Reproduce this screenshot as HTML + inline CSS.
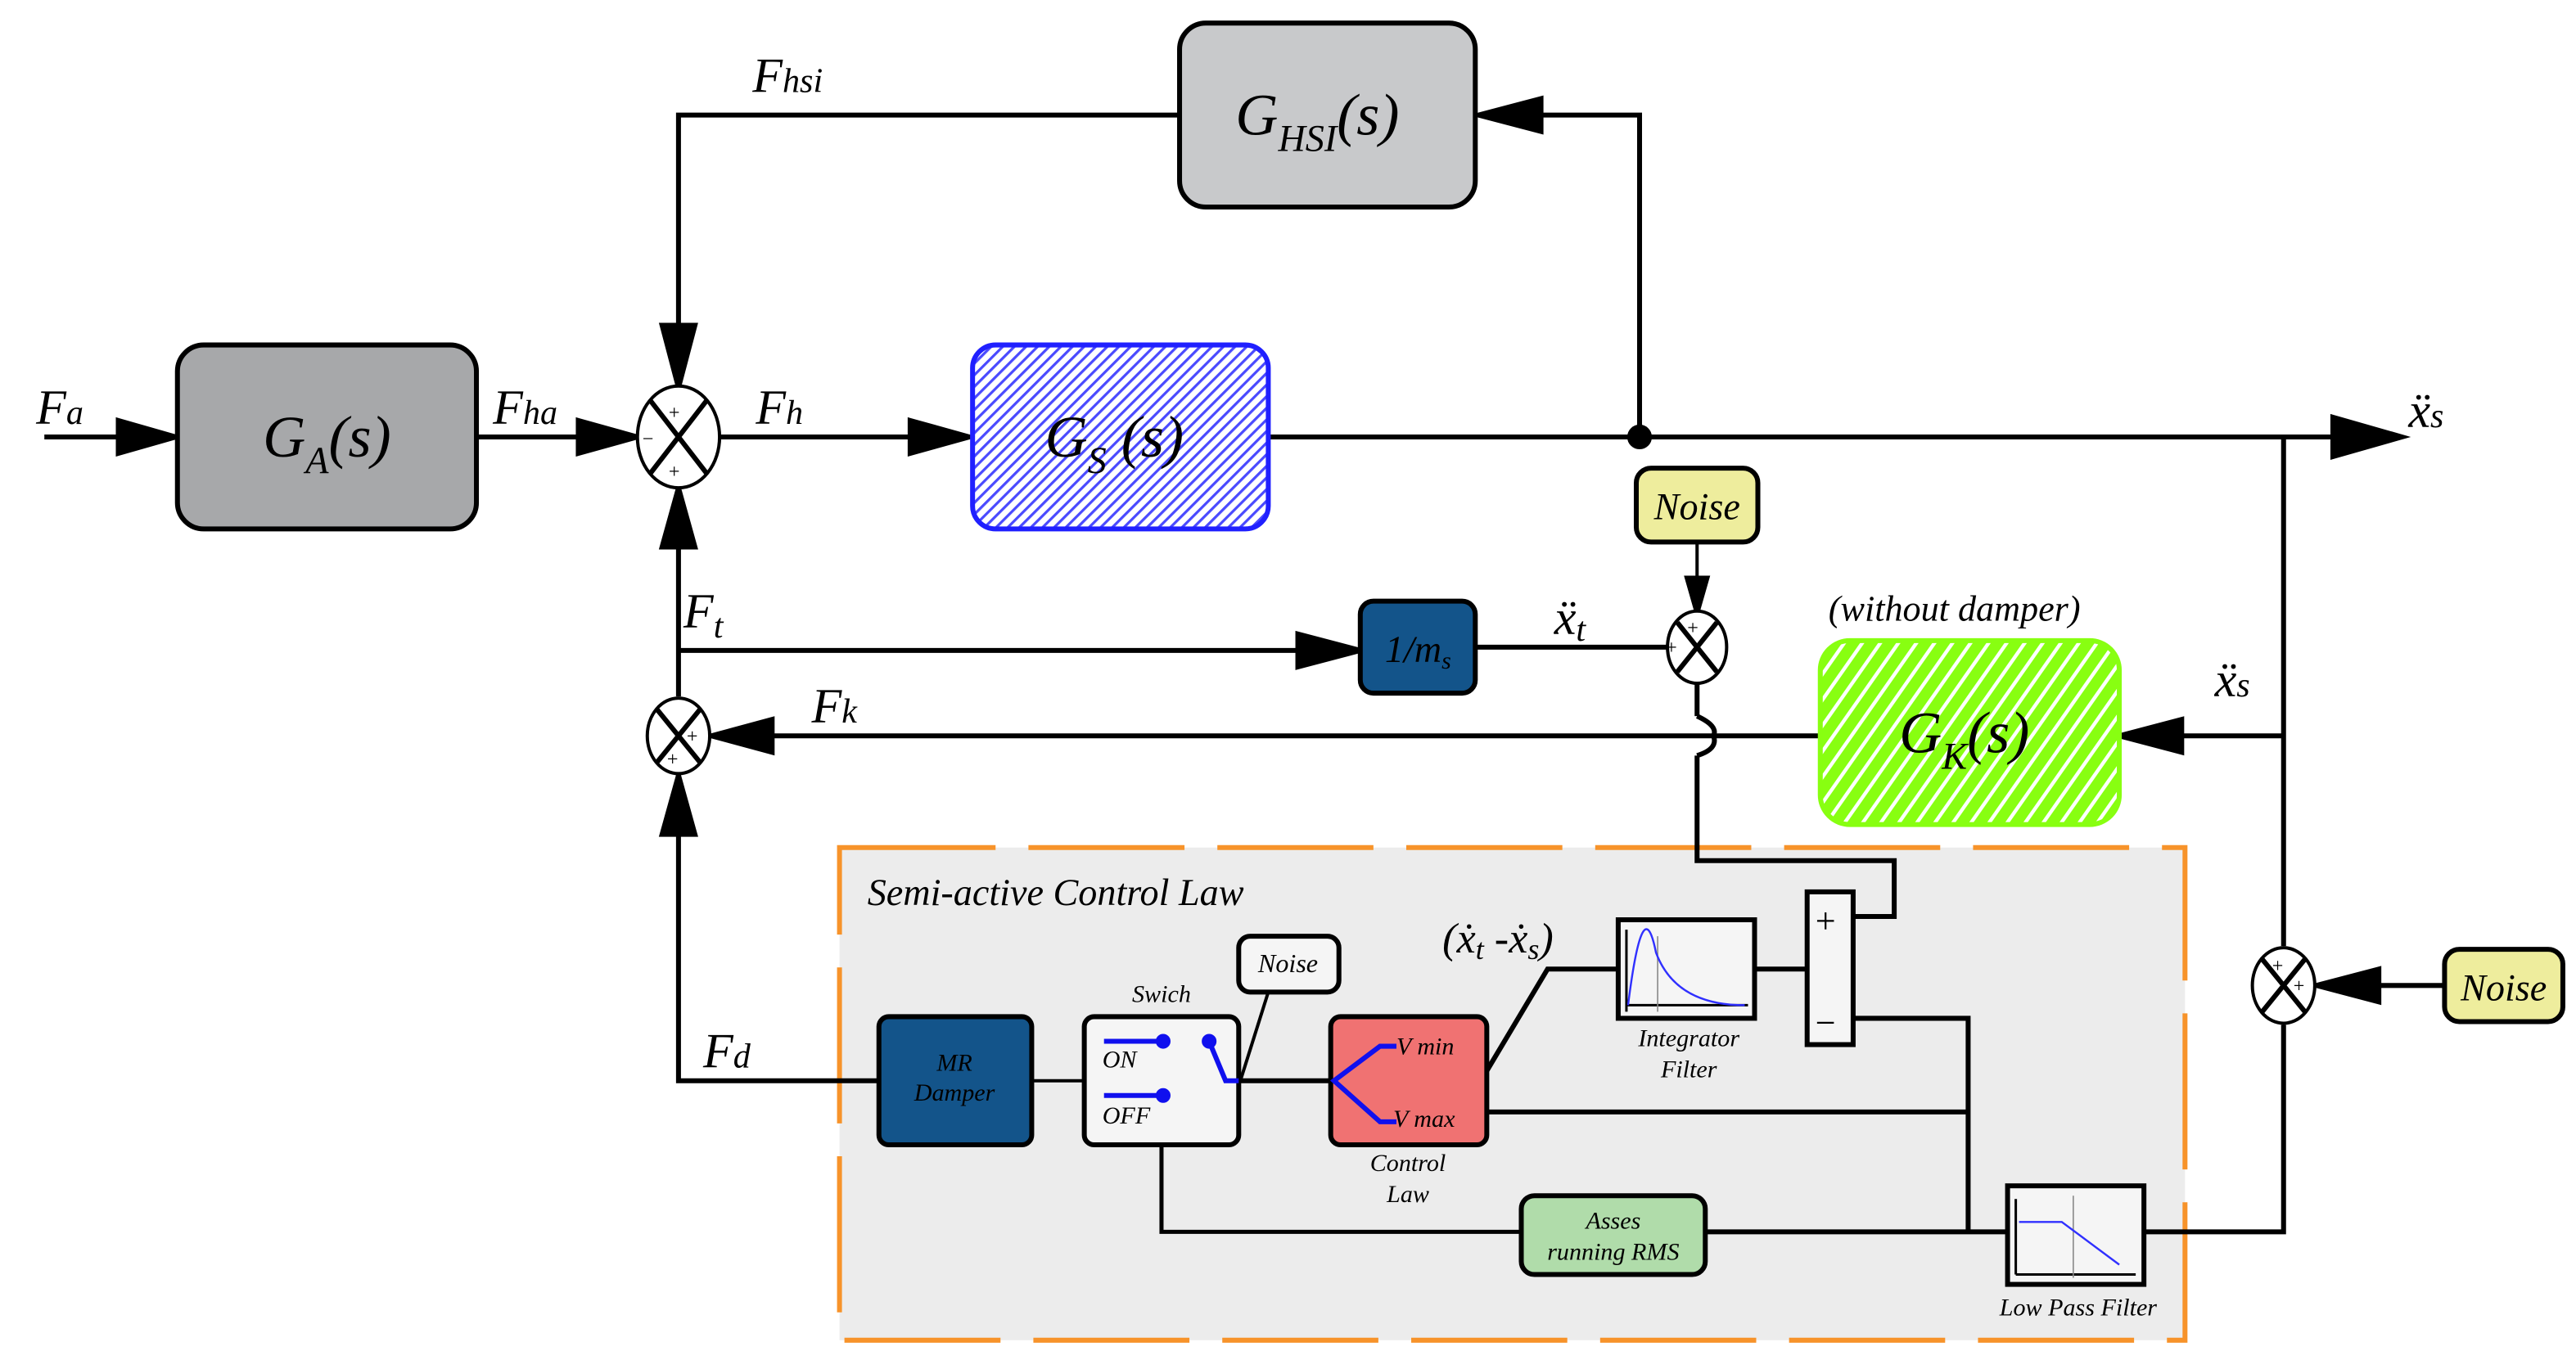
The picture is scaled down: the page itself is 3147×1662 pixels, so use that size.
<!DOCTYPE html>
<html><head><meta charset="utf-8"><style>html,body{margin:0;padding:0;background:#fff}svg{display:block}
svg text{font-family:"Liberation Serif","DejaVu Serif","Times New Roman",serif;font-style:italic}</style></head>
<body>
<svg width="3147" height="1662" viewBox="0 0 1568 828" xmlns="http://www.w3.org/2000/svg" font-family="'Liberation Serif', 'DejaVu Serif', serif">
<defs>
<pattern id="hb" width="5" height="5" patternUnits="userSpaceOnUse" patternTransform="rotate(45)"><rect width="5" height="5" fill="#fff"/><rect width="1.6" height="5" fill="#4a4aff"/></pattern>
<pattern id="hg" width="9" height="9" patternUnits="userSpaceOnUse" patternTransform="rotate(35)"><rect width="9" height="9" fill="#88ff11"/><rect width="2.2" height="9" fill="#fff"/></pattern>
</defs>
<rect x="511" y="516" width="819" height="300" fill="#ececec" stroke="#f7932a" stroke-dasharray="95,20" stroke-width="3"/>
<g stroke="#000" stroke-width="3" fill="none">
<line x1="27" y1="266" x2="107" y2="266"/><path d="M72,256L107,266L72,276z" fill="#000"/>
<line x1="290" y1="266" x2="388" y2="266"/><path d="M352,256L388,266L352,276z" fill="#000"/>
<line x1="438" y1="266" x2="590" y2="266"/><path d="M554,256L590,266L554,276z" fill="#000"/>
<line x1="772" y1="266" x2="1430" y2="266"/><path d="M1420,254L1462,266L1420,278z" fill="#000"/>
<circle cx="998" cy="266" r="6" fill="#000"/>
<polyline points="998,266 998,70 900,70"/><path d="M938,60L900,70L938,80z" fill="#000"/>
<polyline points="718,70 413,70 413,236"/><path d="M403,198L413,236L423,198z" fill="#000"/>
<line x1="413" y1="296" x2="413" y2="424"/><path d="M403,333L413,297L423,333z" fill="#000"/>
<line x1="413" y1="396" x2="828" y2="396"/><path d="M790,386L828,396L790,406z" fill="#000"/>
<line x1="898" y1="394" x2="1015" y2="394"/>
<line x1="1033" y1="330" x2="1033" y2="372" stroke-width="2"/><path d="M1027,352L1033,373L1039,352z" fill="#000"/>
<polyline points="1033,416 1033,436"/>
<path d="M1033,436 Q1046,442 1043,448 Q1046,456 1033,460"/>
<polyline points="1033,460 1033,524 1153,524 1153,558 1128,558"/>
<line x1="1108" y1="448" x2="433" y2="448"/><path d="M470,438L433,448L470,458z" fill="#000"/>
<polyline points="1390,266 1390,576"/>
<line x1="1390" y1="448" x2="1290" y2="448"/><path d="M1328,438L1290,448L1328,458z" fill="#000"/>
<line x1="1488" y1="600" x2="1410" y2="600"/><path d="M1448,590L1410,600L1448,610z" fill="#000"/>
<polyline points="1390,624 1390,750 1305,750"/>
<polyline points="535,658 413,658 413,472"/><path d="M403,508L413,472L423,508z" fill="#000"/>
<line x1="628" y1="658" x2="660" y2="658" stroke-width="2"/>
<line x1="754" y1="658" x2="810" y2="658"/>
<line x1="772" y1="604" x2="755" y2="658" stroke-width="2"/>
<polyline points="905,652 942,590 985,590"/>
<line x1="1068" y1="590" x2="1100" y2="590"/>
<polyline points="1128,620 1198,620 1198,750"/>
<line x1="905" y1="677" x2="1198" y2="677"/>
<polyline points="707,697 707,750 926,750" stroke-width="2.5"/>
<line x1="1038" y1="750" x2="1222" y2="750"/>
</g>
<g stroke="#000" stroke-width="3">
<rect x="108" y="210" width="182" height="112" rx="16" fill="#a7a8aa"/>
<rect x="718" y="14" width="180" height="112" rx="16" fill="#c8c9cb"/>
<rect x="592" y="210" width="180" height="112" rx="14" fill="url(#hb)" stroke="#2020ff"/>
<rect x="828" y="366" width="70" height="56" rx="8" fill="#13548a"/>
<rect x="996" y="285" width="74" height="45" rx="9" fill="#eeed9d"/>
<rect x="1108" y="390" width="182" height="112" rx="18" fill="url(#hg)" stroke="#88ff11"/>
<rect x="1488" y="578" width="72" height="44" rx="9" fill="#eeed9d"/>
<rect x="535" y="619" width="93" height="78" rx="6" fill="#13548a"/>
<rect x="660" y="619" width="94" height="78" rx="6" fill="#f5f5f5"/>
<rect x="754" y="570" width="61" height="34" rx="7" fill="#f5f5f5"/>
<rect x="810" y="619" width="95" height="78" rx="6" fill="#f07272"/>
<rect x="985" y="560" width="83" height="60" fill="#f5f5f5"/>
<rect x="1100" y="543" width="28" height="93" fill="#f5f5f5"/>
<rect x="926" y="728" width="112" height="48" rx="8" fill="#b0dcaa"/>
<rect x="1222" y="722" width="83" height="60" fill="#f5f5f5"/>
</g>
<g stroke="#000" stroke-width="2" fill="#fff">
<ellipse cx="413" cy="266" rx="25" ry="31"/>
<ellipse cx="413" cy="448" rx="19" ry="23"/>
<ellipse cx="1033" cy="394" rx="18" ry="22"/>
<ellipse cx="1390" cy="600" rx="19" ry="23"/>
</g>
<g stroke="#000" stroke-width="3">
<path d="M396,244L430,288M430,244L396,288"/>
<path d="M400,432L426,464M426,432L400,464"/>
<path d="M1021,379L1045,409M1045,379L1021,409"/>
<path d="M1377,584L1403,616M1403,584L1377,616"/>
</g>
<g font-size="12" fill="#000">
<text x="407" y="255" style="font-style:normal">+</text><text x="391" y="271" style="font-style:normal">−</text><text x="407" y="291" style="font-style:normal">+</text>
<text x="418" y="452" style="font-style:normal">+</text><text x="406" y="466" style="font-style:normal">+</text>
<text x="1027" y="386" style="font-style:normal">+</text><text x="1014" y="398" style="font-style:normal">+</text>
<text x="1383" y="592" style="font-style:normal">+</text><text x="1396" y="604" style="font-style:normal">+</text>
</g>
<g stroke="#1010ee" stroke-width="3" fill="#1010ee">
<line x1="672" y1="634" x2="706" y2="634"/><circle cx="708" cy="634" r="3"/>
<circle cx="736" cy="634" r="3"/>
<polyline points="736,634 746,658 754,658" fill="none"/>
<line x1="672" y1="667" x2="706" y2="667"/><circle cx="708" cy="667" r="3"/>
<polyline points="850,637 840,637 812,658 840,683 850,683" fill="none"/>
</g>
<g stroke="#000" stroke-width="1.5" fill="none">
<path d="M990,616V566M990,612H1064"/>
<path d="M1227,776V730M1227,776H1300"/>
<line x1="1009" y1="570" x2="1009" y2="616" stroke="#888" stroke-width="0.8"/>
<line x1="1262" y1="728" x2="1262" y2="778" stroke="#888" stroke-width="0.8"/>
</g>
<path d="M991,612 Q1000,540 1008,580 Q1020,612 1062,612" stroke="#3030ff" fill="none" stroke-width="1.2"/>
<path d="M1229,744 H1255 L1290,770" stroke="#3030ff" fill="none" stroke-width="1.2"/>
<g font-size="22">
<text x="1105" y="568" style="font-style:normal">+</text><text x="1105" y="630" style="font-style:normal">−</text>
</g>
<g fill="#000" font-size="30">
<text x="22" y="258">F<tspan font-size="21">a</tspan></text>
<text x="300" y="258">F<tspan font-size="21">ha</tspan></text>
<text x="460" y="258">F<tspan font-size="21">h</tspan></text>
<text x="458" y="56">F<tspan font-size="21">hsi</tspan></text>
<text x="416" y="382">F<tspan font-size="21" dy="6">t</tspan></text>
<text x="494" y="440">F<tspan font-size="21">k</tspan></text>
<text x="428" y="650">F<tspan font-size="21">d</tspan></text>
<text x="1466" y="260">ẍ<tspan font-size="21">s</tspan></text>
<text x="1348" y="424">ẍ<tspan font-size="21">s</tspan></text>
<text x="946" y="386">ẍ<tspan font-size="21" dy="4">t</tspan></text>
<text x="160" y="278" font-size="36">G<tspan font-size="23" dy="10">A</tspan><tspan dy="-10">(s)</tspan></text>
<text x="752" y="82" font-size="36">G<tspan font-size="23" dy="10">HSI</tspan><tspan dy="-10">(s)</tspan></text>
<text x="636" y="278" font-size="36">G<tspan font-size="23" dy="10">S</tspan><tspan dy="-10"> (s)</tspan></text>
<text x="1156" y="458" font-size="36">G<tspan font-size="23" dy="10">K</tspan><tspan dy="-10">(s)</tspan></text>
<text x="1113" y="378" font-size="22">(without damper)</text>
<text x="843" y="403" font-size="23">1/m<tspan font-size="15" dy="4">s</tspan></text>
<text x="1033" y="316" font-size="23" text-anchor="middle">Noise</text>
<text x="1524" y="609" font-size="23" text-anchor="middle">Noise</text>
<text x="528" y="551" font-size="23">Semi-active Control Law</text>
<text x="878" y="580" font-size="26">(ẋ<tspan font-size="18" dy="4">t</tspan><tspan dy="-4"> -ẋ</tspan><tspan font-size="18" dy="4">s</tspan><tspan dy="-4">)</tspan></text>
<g font-size="15" text-anchor="middle">
<text x="581" y="652">MR</text><text x="581" y="670">Damper</text>
<text x="707" y="610">Swich</text>
<text x="784" y="592" font-size="16">Noise</text>
<text x="857" y="713">Control</text><text x="857" y="732">Law</text>
<text x="1028" y="637">Integrator</text><text x="1028" y="656">Filter</text>
<text x="982" y="748">Asses</text><text x="982" y="767">running RMS</text>
<text x="1265" y="801">Low Pass Filter</text>
</g>
<g font-size="15">
<text x="671" y="650">ON</text><text x="671" y="684">OFF</text>
<text x="850" y="642">V min</text><text x="848" y="686">V max</text>
</g>
</g>
</svg>
</body></html>
